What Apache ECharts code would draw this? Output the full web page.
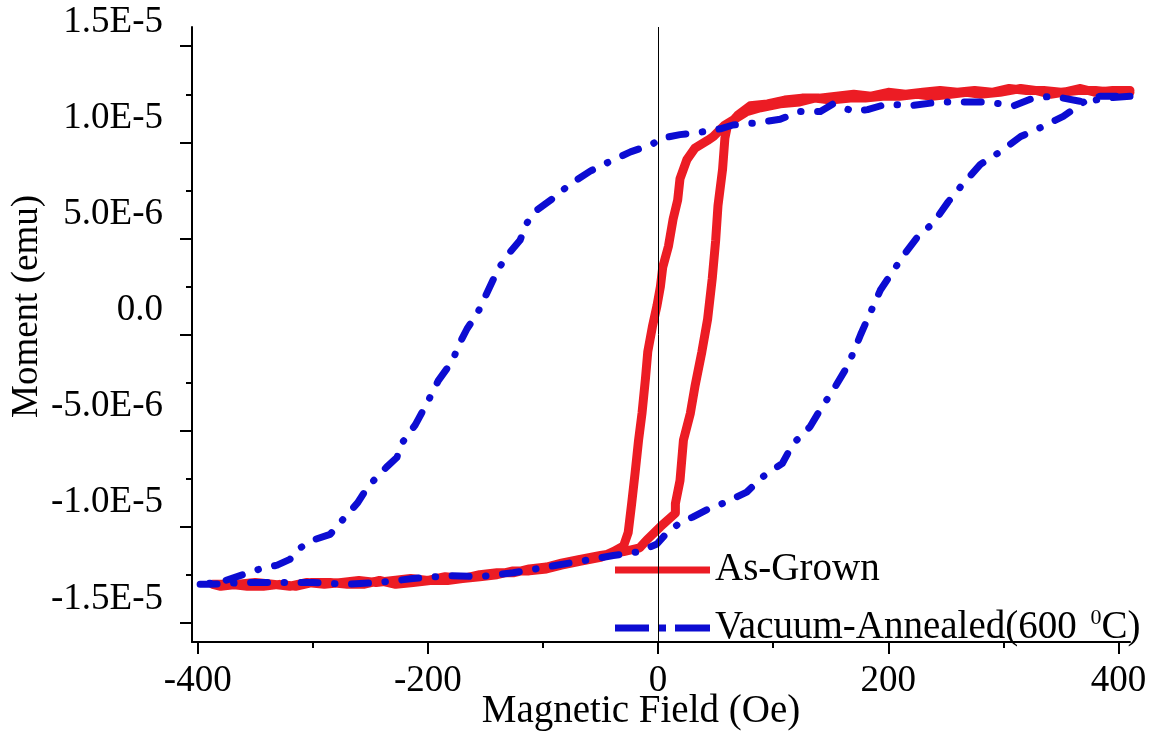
<!DOCTYPE html>
<html>
<head>
<meta charset="utf-8">
<script src="https://cdn.jsdelivr.net/npm/echarts@6/dist/echarts.min.js"></script>
<style>
  html, body { margin: 0; padding: 0; background: #fff; }
  #chart { width: 1154px; height: 733px; }
</style>
</head>
<body>
<div id="chart"></div>
<script>
// field in Oe, moment in units of 1E-6 emu
const grownField = [410, 395, 380, 367, 352, 341, 328, 315, 297, 280, 268, 254, 238, 225, 210, 195, 180, 167, 150, 136, 123, 106, 89, 77, 69, 58, 48, 43, 32, 25, 19, 17, 13, 9, 4, 2, -1, -5, -9, -11, -14, -17, -20, -23, -26, -30, -39, -50, -68, -84, -97, -112, -126, -140, -155, -170, -183, -198, -213, -228, -242, -256, -270, -285, -300, -315, -329, -343, -357, -372, -387,
  -380, -365, -350, -335, -320, -305, -290, -275, -260, -245, -230, -215, -200, -185, -170, -155, -140, -126, -112, -97, -84, -68, -50, -40, -30, -16, -10, 2, 15, 15, 19, 22, 28, 32, 38, 43, 47, 50, 52, 56, 58, 60, 69, 80, 95, 110, 125, 140, 155, 170, 185, 200, 215, 230, 245, 260, 275, 290, 305, 320, 335, 350, 365, 380, 395, 410];
const grownMoment = [12.7, 12.7, 12.6, 12.8, 12.6, 12.5, 12.7, 12.8, 12.6, 12.5, 12.6, 12.5, 12.4, 12.5, 12.4, 12.4, 12.3, 12.3, 12.2, 12.3, 12.1, 12.0, 11.8, 11.6, 11.3, 10.9, 10.3, 10.1, 9.7, 9.1, 8.1, 7.0, 6.0, 4.6, 3.5, 2.5, 1.5, 0.4, -0.9, -2.3, -4.1, -5.5, -7.2, -8.8, -10.3, -11.0, -11.3, -11.6, -11.8, -12.0, -12.2, -12.3, -12.3, -12.5, -12.6, -12.7, -12.8, -12.8, -12.9, -13.0, -12.8, -13.0, -13.0, -12.9, -12.9, -13.1, -13.0, -13.1, -13.1, -13.0, -13.0,
  -13.1, -13.0, -12.9, -13.0, -13.1, -12.9, -13.0, -12.9, -12.8, -12.9, -12.8, -12.7, -12.8, -12.6, -12.7, -12.5, -12.4, -12.4, -12.2, -12.1, -11.9, -11.7, -11.5, -11.4, -11.3, -11.1, -10.7, -10.0, -9.3, -8.8, -7.6, -5.5, -4.1, -2.7, -0.9, 0.8, 2.9, 4.9, 6.7, 8.6, 10.2, 10.8, 11.4, 11.9, 12.0, 12.2, 12.3, 12.3, 12.4, 12.5, 12.4, 12.6, 12.5, 12.6, 12.7, 12.6, 12.7, 12.6, 12.8, 12.7, 12.7, 12.6, 12.7, 12.7, 12.6, 12.6];

const annealedField = [410, 390, 370, 343, 326, 309, 286, 269, 245, 219, 199, 182, 170, 152, 141, 123, 106, 83, 65, 54, 34, 19, 2, -5, -24, -42, -59, -77, -91, -107, -114, -120, -130, -139, -150, -157, -166, -172, -179, -191, -201, -211, -222, -227, -236, -252, -261, -272, -285, -300, -311, -320, -331, -346, -361, -381, -401,
  -390, -357, -329, -300, -270, -242, -213, -183, -155, -126, -97, -68, -39, -16, -1, 8, 19, 30, 43, 60, 77, 91, 108, 117, 132, 141, 152, 163, 170, 176, 193, 213, 225, 239, 252, 263, 280, 297, 315, 330, 352, 370, 384, 410];
const annealedMoment = [12.4, 12.3, 12.1, 12.4, 12.3, 11.9, 12.1, 12.1, 12.1, 11.9, 12.0, 11.7, 11.6, 12.0, 11.6, 11.6, 11.2, 11.0, 10.9, 10.7, 10.5, 10.4, 10.2, 9.9, 9.5, 9.0, 8.5, 7.8, 7.1, 6.4, 5.8, 4.9, 4.2, 3.4, 2.0, 1.1, 0.3, -0.4, -1.4, -2.4, -3.6, -4.7, -5.6, -6.4, -6.9, -7.9, -8.75, -9.5, -10.4, -10.7, -11.1, -11.7, -12.0, -12.2, -12.5, -12.9, -13.0,
  -13.0, -12.9, -12.9, -12.9, -13.0, -12.9, -12.7, -12.55, -12.6, -12.4, -12.1, -11.8, -11.5, -11.3, -10.9, -10.3, -9.8, -9.5, -9.1, -8.7, -8.2, -7.4, -6.7, -5.7, -4.8, -3.9, -2.9, -1.8, -0.9, 0.0, 2.3, 4.1, 5.05, 5.8, 6.9, 7.7, 8.85, 9.5, 10.3, 10.7, 11.35, 12.1, 12.4, 12.4];

const xTickMajor = [-400, -200, 0, 200, 400];
const xTickMinor = [-300, -100, 100, 300];
const yTickMajor = [-15, -10, -5, 0, 5, 10, 15];
const yTickMinor = [-12.5, -7.5, -2.5, 2.5, 7.5, 12.5];
const yTickLabels = ["-1.5E-5", "-1.0E-5", "-5.0E-6", "0.0", "5.0E-6", "1.0E-5", "1.5E-5"];

const FONT = "Liberation Serif";
const RED = "#ec1c24";
const BLUE = "#0c0cd2";

const zip = (xs, ys) => xs.map((x, i) => [x, ys[i]]);

const chart = echarts.init(document.getElementById("chart"));

const option = {
  animation: false,
  backgroundColor: "#fff",
  grid: { left: 192, right: 24, top: 27, bottom: 91, outerBoundsMode: "none", containLabel: false },
  legend: {
    left: 610,
    top: 543,
    orient: "vertical",
    itemWidth: 95,
    itemHeight: 7,
    itemGap: 14,
    symbolKeepAspect: false,
    data: [
      { name: "As-Grown", icon: "rect", itemStyle: { color: RED, borderWidth: 0 } },
      {
        name: "Vacuum-Annealed(600 0C)",
        icon: "path://M0,0H34V7H0Z M43,0H51V7H43Z M60,0H95V7H60Z",
        itemStyle: { color: BLUE, borderWidth: 0 },
      },
    ],
    formatter: (name) => name === "As-Grown" ? name : "Vacuum-Annealed(600 {sup|0}C)",
    textStyle: {
      fontFamily: FONT,
      fontSize: 39,
      color: "#000",
      lineHeight: 44,
      rich: {
        sup: { fontFamily: FONT, fontSize: 22, color: "#000", padding: [0, 0, 19, 4] },
      },
    },
  },
  xAxis: [
    {
      type: "value",
      min: -405,
      max: 410,
      position: "bottom",
      splitLine: { show: false },
      axisLine: { show: true, onZero: false, lineStyle: { color: "#000", width: 2 } },
      axisTick: { show: true, customValues: xTickMajor, length: 12, lineStyle: { color: "#000", width: 2 } },
      axisLabel: { customValues: xTickMajor, fontFamily: FONT, fontSize: 37, color: "#000", margin: 21 },
      name: "Magnetic Field (Oe)",
      nameLocation: "middle",
      nameGap: 50,
      nameMoveOverlap: false,
      nameTextStyle: { fontFamily: FONT, fontSize: 39, color: "#000", padding: [0, 40, 0, 0] },
    },
    {
      type: "value",
      min: -405,
      max: 410,
      position: "bottom",
      splitLine: { show: false },
      axisLine: { show: false, onZero: false },
      axisTick: { show: true, customValues: xTickMinor, length: 6, lineStyle: { color: "#000", width: 2 } },
      axisLabel: { show: false },
    },
  ],
  yAxis: [
    {
      type: "value",
      min: -16,
      max: 16,
      position: "left",
      splitLine: { show: false },
      axisLine: { show: true, onZero: false, lineStyle: { color: "#000", width: 2 } },
      axisTick: { show: true, customValues: yTickMajor, length: 12, lineStyle: { color: "#000", width: 2 } },
      axisLabel: {
        customValues: yTickMajor,
        formatter: (v) => yTickLabels[yTickMajor.indexOf(v)],
        fontFamily: FONT,
        fontSize: 37,
        color: "#000",
        margin: 29,
        verticalAlign: "bottom",
        lineHeight: 48,
      },
      name: "Moment (emu)",
      nameLocation: "middle",
      nameGap: 146,
      nameMoveOverlap: false,
      nameTextStyle: { fontFamily: FONT, fontSize: 37, color: "#000", padding: [0, 0, 0, 56] },
    },
    {
      type: "value",
      min: -16,
      max: 16,
      position: "left",
      splitLine: { show: false },
      axisLine: { show: false, onZero: false },
      axisTick: { show: true, customValues: yTickMinor, length: 6, lineStyle: { color: "#000", width: 2 } },
      axisLabel: { show: false },
    },
  ],
  series: [
    {
      name: "As-Grown",
      type: "line",
      data: zip(grownField, grownMoment),
      symbol: "none",
      lineStyle: { color: RED, width: 9, join: "round", cap: "round" },
      itemStyle: { color: RED },
      z: 2,
      markLine: {
        silent: true,
        symbol: "none",
        label: { show: false },
        lineStyle: { color: "#000", width: 1, type: "solid" },
        data: [{ xAxis: 0 }],
      },
    },
    {
      name: "Vacuum-Annealed(600 0C)",
      type: "line",
      data: zip(annealedField, annealedMoment),
      symbol: "none",
      lineStyle: { color: BLUE, width: 7, type: [17, 16.5, 0.5, 16.5], cap: "round", join: "round" },
      itemStyle: { color: BLUE },
      z: 3,
    },
  ],
};

chart.setOption(option);
</script>
</body>
</html>
